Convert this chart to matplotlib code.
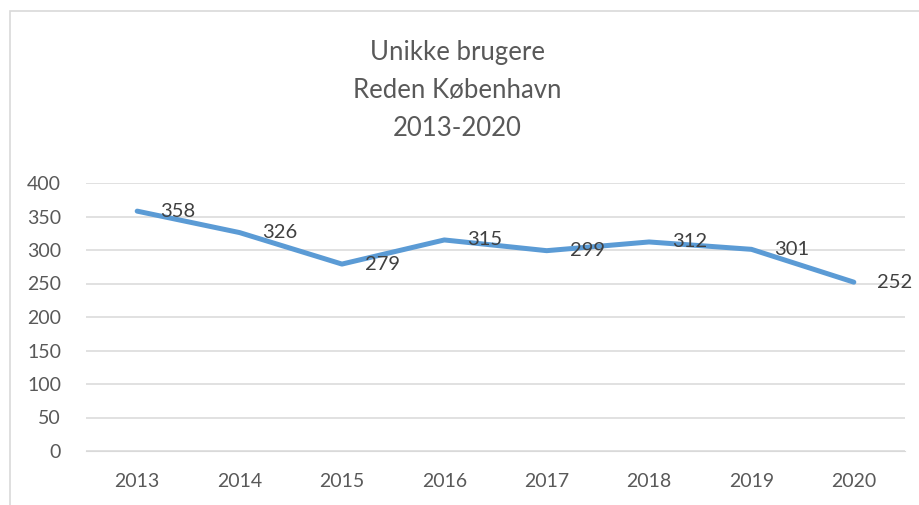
import matplotlib.pyplot as plt
from matplotlib.patches import Rectangle

years = ['2013', '2014', '2015', '2016', '2017', '2018', '2019', '2020']
users = [358, 326, 279, 315, 299, 312, 301, 252]

plt.rcParams['font.family'] = ['Lato', 'DejaVu Sans']

fig = plt.figure(figsize=(9.19, 5.05), dpi=100)
ax = fig.add_axes([86 / 919, 1 - 451 / 505, 819 / 919, 268 / 505])

x = range(len(years))
ax.plot(x, users, color='#5B9BD5', linewidth=3.6, solid_capstyle='round', zorder=3)
for xi, v in zip(x, users):
    ax.annotate(str(v), (xi, v), xytext=(16.5, 0), textcoords='offset points',
                ha='left', va='center', fontsize=14.5, color='#404040', zorder=4)

ax.set_xlim(-0.5, len(years) - 0.5)
ax.set_ylim(0, 400)
ax.set_yticks(range(0, 401, 50))
ax.set_xticks(list(x))
ax.set_xticklabels(years)
ax.grid(axis='y', color='#D9D9D9', linewidth=1.1)
ax.set_axisbelow(True)
for s in ax.spines.values():
    s.set_visible(False)
ax.spines['bottom'].set_visible(True)
ax.spines['bottom'].set_color('#D9D9D9')
ax.tick_params(length=0, labelsize=14, labelcolor='#595959')
ax.tick_params(axis='y', pad=18)
ax.tick_params(axis='x', pad=16)

fig.text(457 / 919, 1 - 91 / 505, 'Unikke brugere\nReden København\n2013-2020',
         ha='center', va='center', fontsize=18.5, color='#595959', linespacing=1.65)

fig.patches.append(Rectangle((10 / 919, -0.1), 1.2, 1 - 11 / 505 + 0.1,
                             transform=fig.transFigure, fill=False,
                             edgecolor='#D9D9D9', linewidth=1.2))

fig.savefig('out.png', dpi=100)
